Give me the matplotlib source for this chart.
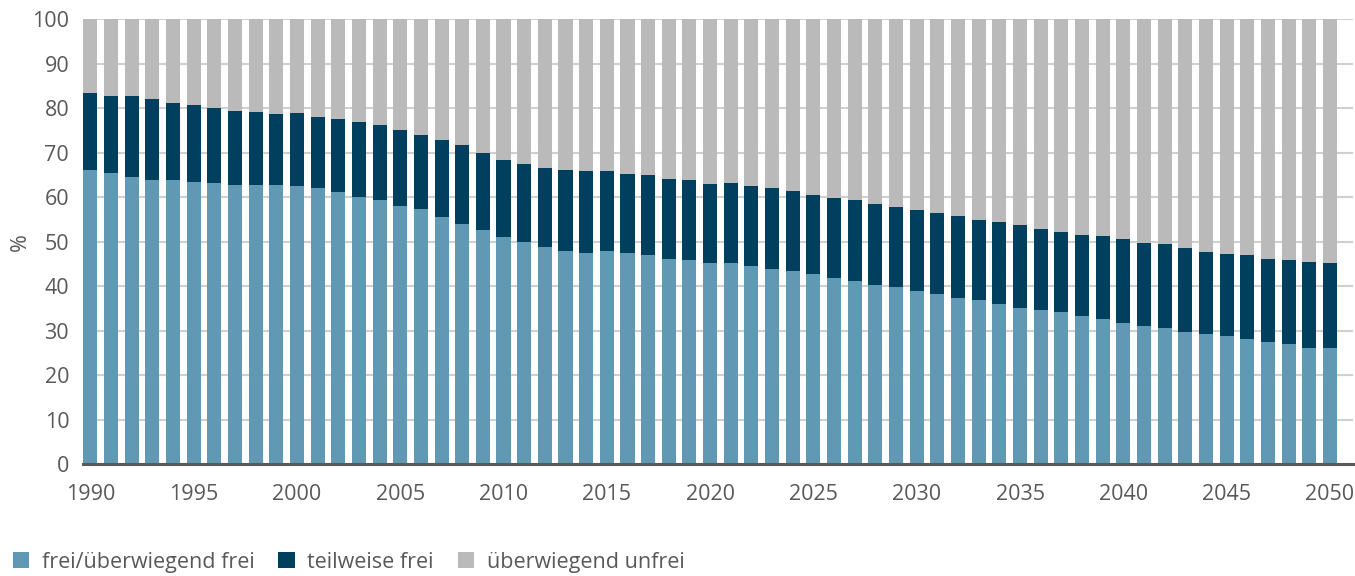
import matplotlib.pyplot as plt
import numpy as np

plt.rcParams['font.family'] = ['Open Sans', 'DejaVu Sans']

years = list(range(1990, 2051))

# share of world population (%)
frei = [66.1, 65.4, 64.5, 63.9, 63.9, 63.4, 63.2, 62.8, 62.8, 62.8,
        62.5, 62.1, 61.1, 60.0, 59.3, 58.0, 57.3, 55.5, 53.9, 52.6,
        51.0, 49.9, 48.7, 48.0, 47.5, 48.0, 47.5, 46.9, 46.2, 45.8,
        45.1, 45.1, 44.6, 43.9, 43.5, 42.8, 41.9, 41.2, 40.3, 39.9,
        39.0, 38.3, 37.4, 36.8, 35.9, 35.2, 34.7, 34.3, 33.4, 32.7,
        31.8, 31.1, 30.5, 29.8, 29.3, 28.7, 28.2, 27.5, 27.1, 26.2,
        26.0]
frei_plus_teil = [83.3, 82.8, 82.8, 82.1, 81.2, 80.7, 80.1, 79.4, 79.2, 78.7,
                  78.9, 78.0, 77.6, 76.9, 76.2, 75.1, 74.0, 72.9, 71.8, 69.9,
                  68.3, 67.4, 66.5, 66.2, 65.8, 65.8, 65.3, 64.9, 64.0, 63.8,
                  62.9, 63.1, 62.4, 62.0, 61.3, 60.4, 59.7, 59.3, 58.4, 57.8,
                  57.0, 56.4, 55.7, 54.8, 54.3, 53.7, 52.8, 52.1, 51.4, 51.2,
                  50.5, 49.6, 49.4, 48.5, 47.6, 47.2, 46.9, 46.2, 45.8, 45.5,
                  45.3]

frei = np.array(frei)
teilweise = np.array(frei_plus_teil) - frei
unfrei = 100 - np.array(frei_plus_teil)

c_frei = '#6199b4'
c_teil = '#00405e'
c_unfrei = '#bbbabb'
grey = '#595959'

fig = plt.figure(figsize=(13.55, 5.76), dpi=100)
ax = fig.add_axes([0.0613, 0.194, 0.937, 0.773])

w = 0.68
ax.bar(years, frei, width=w, color=c_frei, label='frei/überwiegend frei', zorder=2)
ax.bar(years, teilweise, width=w, bottom=frei, color=c_teil, label='teilweise frei', zorder=2)
ax.bar(years, unfrei, width=w, bottom=frei + teilweise, color=c_unfrei, label='überwiegend unfrei', zorder=2)

ax.set_ylim(0, 100)
ax.set_xlim(1990 - 0.35, 2051.1)
ax.set_yticks(range(0, 101, 10))
ax.set_xticks(range(1990, 2051, 5))
ax.yaxis.grid(True, color='#d0d0d0', linewidth=1.5, zorder=0)
ax.set_axisbelow(True)

for s in ['top', 'right', 'left']:
    ax.spines[s].set_visible(False)
ax.spines['bottom'].set_color(grey)
ax.spines['bottom'].set_linewidth(2.2)
ax.spines['bottom'].set_zorder(3)

ax.tick_params(axis='y', length=0, pad=10, labelsize=15.5, labelcolor=grey)
ax.tick_params(axis='x', direction='in', length=7, width=2, color=grey,
               pad=14, labelsize=15.5, labelcolor=grey)
for t in ax.xaxis.get_major_ticks():
    t.tick1line.set_zorder(4)

ax.set_ylabel('%', fontsize=15.5, color=grey)
ax.yaxis.set_label_coords(-0.041, 0.5)

fig.legend(loc='lower left', bbox_to_anchor=(0.0, -0.017), ncol=3, frameon=False,
           fontsize=15.5, labelcolor=grey, handlelength=0.75, handleheight=0.75,
           handletextpad=0.6, columnspacing=1.1, borderaxespad=0.2)

fig.savefig('out.png', dpi=100)
